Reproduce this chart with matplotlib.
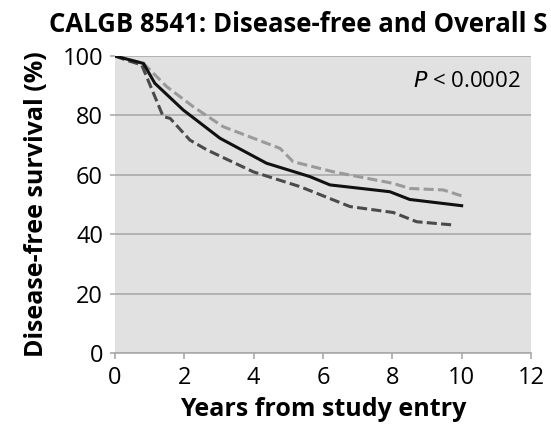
import matplotlib.pyplot as plt

# Disease-free survival curves
years_mid = [0, 0.82, 1.15, 1.97, 3.03, 4.37, 5.62, 6.2, 7.93, 8.5, 10.0]
dfs_mid = [100, 97.5, 90.8, 81.8, 72.3, 63.9, 59.4, 56.6, 54.3, 51.7, 49.6]

years_upper = [0, 0.82, 1.49, 2.26, 3.12, 4.76, 5.14, 6.3, 8.03, 8.5, 9.47, 10.0]
dfs_upper = [100, 97.5, 89.7, 82.9, 76.2, 68.9, 64.4, 61.0, 57.1, 55.4, 54.9, 52.9]

years_lower = [0, 0.38, 0.77, 1.39, 1.59, 2.16, 2.65, 3.99, 5.34, 6.78, 8.03, 8.7, 9.76]
dfs_lower = [100, 98.4, 97.0, 79.6, 79.0, 71.7, 68.4, 61.0, 56.0, 49.3, 47.3, 44.2, 43.1]

x_ticks = [0, 2, 4, 6, 8, 10, 12]
y_ticks = [0, 20, 40, 60, 80, 100]

# the reference crops its title at the right edge; only the visible part is kept
title = 'CALGB 8541: Disease-free and Overall S'

plt.rcParams['font.family'] = ['Open Sans', 'DejaVu Sans']

fig = plt.figure(figsize=(5.51, 4.25), dpi=100)
ax = fig.add_axes([115 / 551, 1 - 353 / 425, 416 / 551, 297 / 425])
ax.set_facecolor('#e1e1e1')

ax.plot(years_upper, dfs_upper, color='#9a9a9a', lw=2.2, ls=(0, (3.3, 1.4)))
ax.plot(years_lower, dfs_lower, color='#4a4a4a', lw=2.2, ls=(0, (3.3, 1.4)))
ax.plot(years_mid, dfs_mid, color='#111111', lw=2.2)

ax.set_xlim(0, 12)
ax.set_ylim(0, 100)
ax.set_xticks(x_ticks)
ax.set_yticks(y_ticks)
ax.yaxis.grid(True, color='#aaaaaa', lw=1.2)
ax.set_axisbelow(True)

for side in ['top', 'right', 'left']:
    ax.spines[side].set_visible(False)
ax.spines['bottom'].set_color('#aaaaaa')
ax.spines['bottom'].set_linewidth(1.2)
ax.tick_params(axis='x', color='#aaaaaa', width=1.2, length=4.3, pad=5, labelsize=17)
ax.tick_params(axis='y', color='#aaaaaa', width=1.2, length=3.6, pad=5, labelsize=17)

ax.set_xlabel('Years from study entry', fontsize=18, fontweight='bold', labelpad=5)
ax.set_ylabel('Disease-free survival (%)', fontsize=18, fontweight='bold', labelpad=10)

ax.text(0.975, 0.915, r'$\mathit{P}$ < 0.0002', transform=ax.transAxes,
        ha='right', va='center', fontsize=16)

fig.text(49 / 551, 1 - 25 / 425, title,
         fontsize=18.5, fontweight='bold', va='center', ha='left')

fig.savefig('out.png', dpi=100)
